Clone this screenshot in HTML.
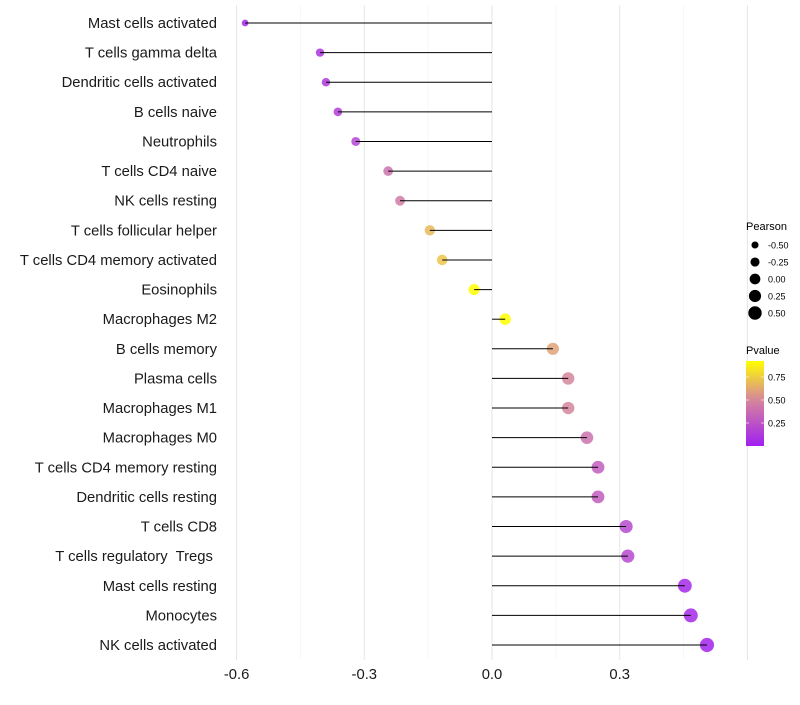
<!DOCTYPE html>
<html><head><meta charset="utf-8"><style>
body{margin:0;background:#fff;font-family:"Liberation Sans",sans-serif}
text{white-space:pre}
</style></head><body>
<svg id="c" width="800" height="700" xmlns="http://www.w3.org/2000/svg"></svg>
<script>
const categories=["Mast cells activated","T cells gamma delta","Dendritic cells activated","B cells naive","Neutrophils","T cells CD4 naive","NK cells resting","T cells follicular helper","T cells CD4 memory activated","Eosinophils","Macrophages M2","B cells memory","Plasma cells","Macrophages M1","Macrophages M0","T cells CD4 memory resting","Dendritic cells resting","T cells CD8","T cells regulatory  Tregs ","Mast cells resting","Monocytes","NK cells activated"];
const pearson=[-0.58,-0.404,-0.39,-0.362,-0.32,-0.244,-0.216,-0.146,-0.117,-0.042,0.031,0.143,0.179,0.179,0.223,0.249,0.249,0.315,0.319,0.453,0.467,0.505];
const pvalue=[0.04,0.1,0.12,0.15,0.18,0.4,0.45,0.68,0.72,0.92,0.92,0.6,0.5,0.5,0.4,0.3,0.3,0.2,0.2,0.05,0.04,0.02];
const xTicks=[-0.6,-0.3,0.0,0.3];
const xTickLabels=["-0.6","-0.3","0.0","0.3"];
const sizeBreaks=[-0.5,-0.25,0,0.25,0.5];
const sizeLabels=["-0.50","-0.25","0.00","0.25","0.50"];
const colorBreaks=[0.25,0.5,0.75];
const colorLabels=["0.25","0.50","0.75"];

const svg=document.getElementById('c');const NS="http://www.w3.org/2000/svg";
function mk(t,a,p){const e=document.createElementNS(NS,t);for(const k in a)e.setAttribute(k,a[k]);(p||svg).appendChild(e);return e;}
const x=v=>492+v*425.7;
const y=i=>23+i*(645-23)/21;
const r=v=>Math.sqrt(Math.max(1,32+36*v));
const pMax=0.92;
function col(p){const t=Math.max(0,Math.min(1,p/pMax));
 const a=[160,32,240],m=[215,135,155],b=[255,255,0];let c;
 if(t<0.55){const u=t/0.55;c=a.map((v,i)=>v+(m[i]-v)*u);}else{const u=(t-0.55)/0.45;c=m.map((v,i)=>v+(b[i]-v)*u);}
 return `rgb(${c.map(Math.round).join(',')})`;}
for(let k=0;k<=8;k++){const v=-0.6+k*0.15;const major=k%2===0;
 const g=mk('line',{x1:x(v),x2:x(v),y1:5,y2:660,stroke:major?'#e8e8e8':'#f2f2f2','stroke-width':major?1.1:0.6});
 }
categories.forEach((c,i)=>{
 const t=mk('text',{x:217,y:y(i)+5,'text-anchor':'end','font-size':14.8,fill:'#1a1a1a'});t.textContent=c;
 
 const pt=mk('circle',{cx:x(pearson[i]),cy:y(i),r:r(pearson[i]),fill:col(pvalue[i]),'fill-opacity':0.85});
 
 const l=mk('line',{x1:x(0),x2:x(pearson[i]),y1:y(i),y2:y(i),stroke:'#000','stroke-width':1});
 
});
xTicks.forEach((v,i)=>{const t=mk('text',{x:x(v),y:679,'text-anchor':'middle','font-size':14.8,fill:'#1a1a1a'});t.textContent=xTickLabels[i];
});
let t=mk('text',{x:746,y:230,'font-size':11,fill:'#000'});t.textContent='Pearson';

sizeBreaks.forEach((v,i)=>{const cy=245+i*17;
 const c=mk('circle',{cx:755,cy:cy,r:r(v)*0.95,fill:'#000'});
 const s=mk('text',{x:768,y:cy+3.5,'font-size':9,fill:'#000'});s.textContent=sizeLabels[i];
 });
t=mk('text',{x:746,y:354,'font-size':11,fill:'#000'});t.textContent='Pvalue';

const defs=mk('defs',{});const lg=mk('linearGradient',{id:'g',x1:0,y1:1,x2:0,y2:0},defs);
for(let k=0;k<=10;k++)mk('stop',{offset:k/10,'stop-color':col(pMax*k/10)},lg);
const bar=mk('rect',{x:746,y:361,width:18,height:85,fill:'url(#g)'});

colorBreaks.forEach((v,i)=>{const cy=446-v/0.25*23;
 mk('line',{x1:746,x2:749,y1:cy,y2:cy,stroke:'#fff','stroke-opacity':0.6});mk('line',{x1:761,x2:764,y1:cy,y2:cy,stroke:'#fff','stroke-opacity':0.6});
 const s=mk('text',{x:768,y:cy+3.5,'font-size':9,fill:'#000'});s.textContent=colorLabels[i];
 });
</script></body></html>
